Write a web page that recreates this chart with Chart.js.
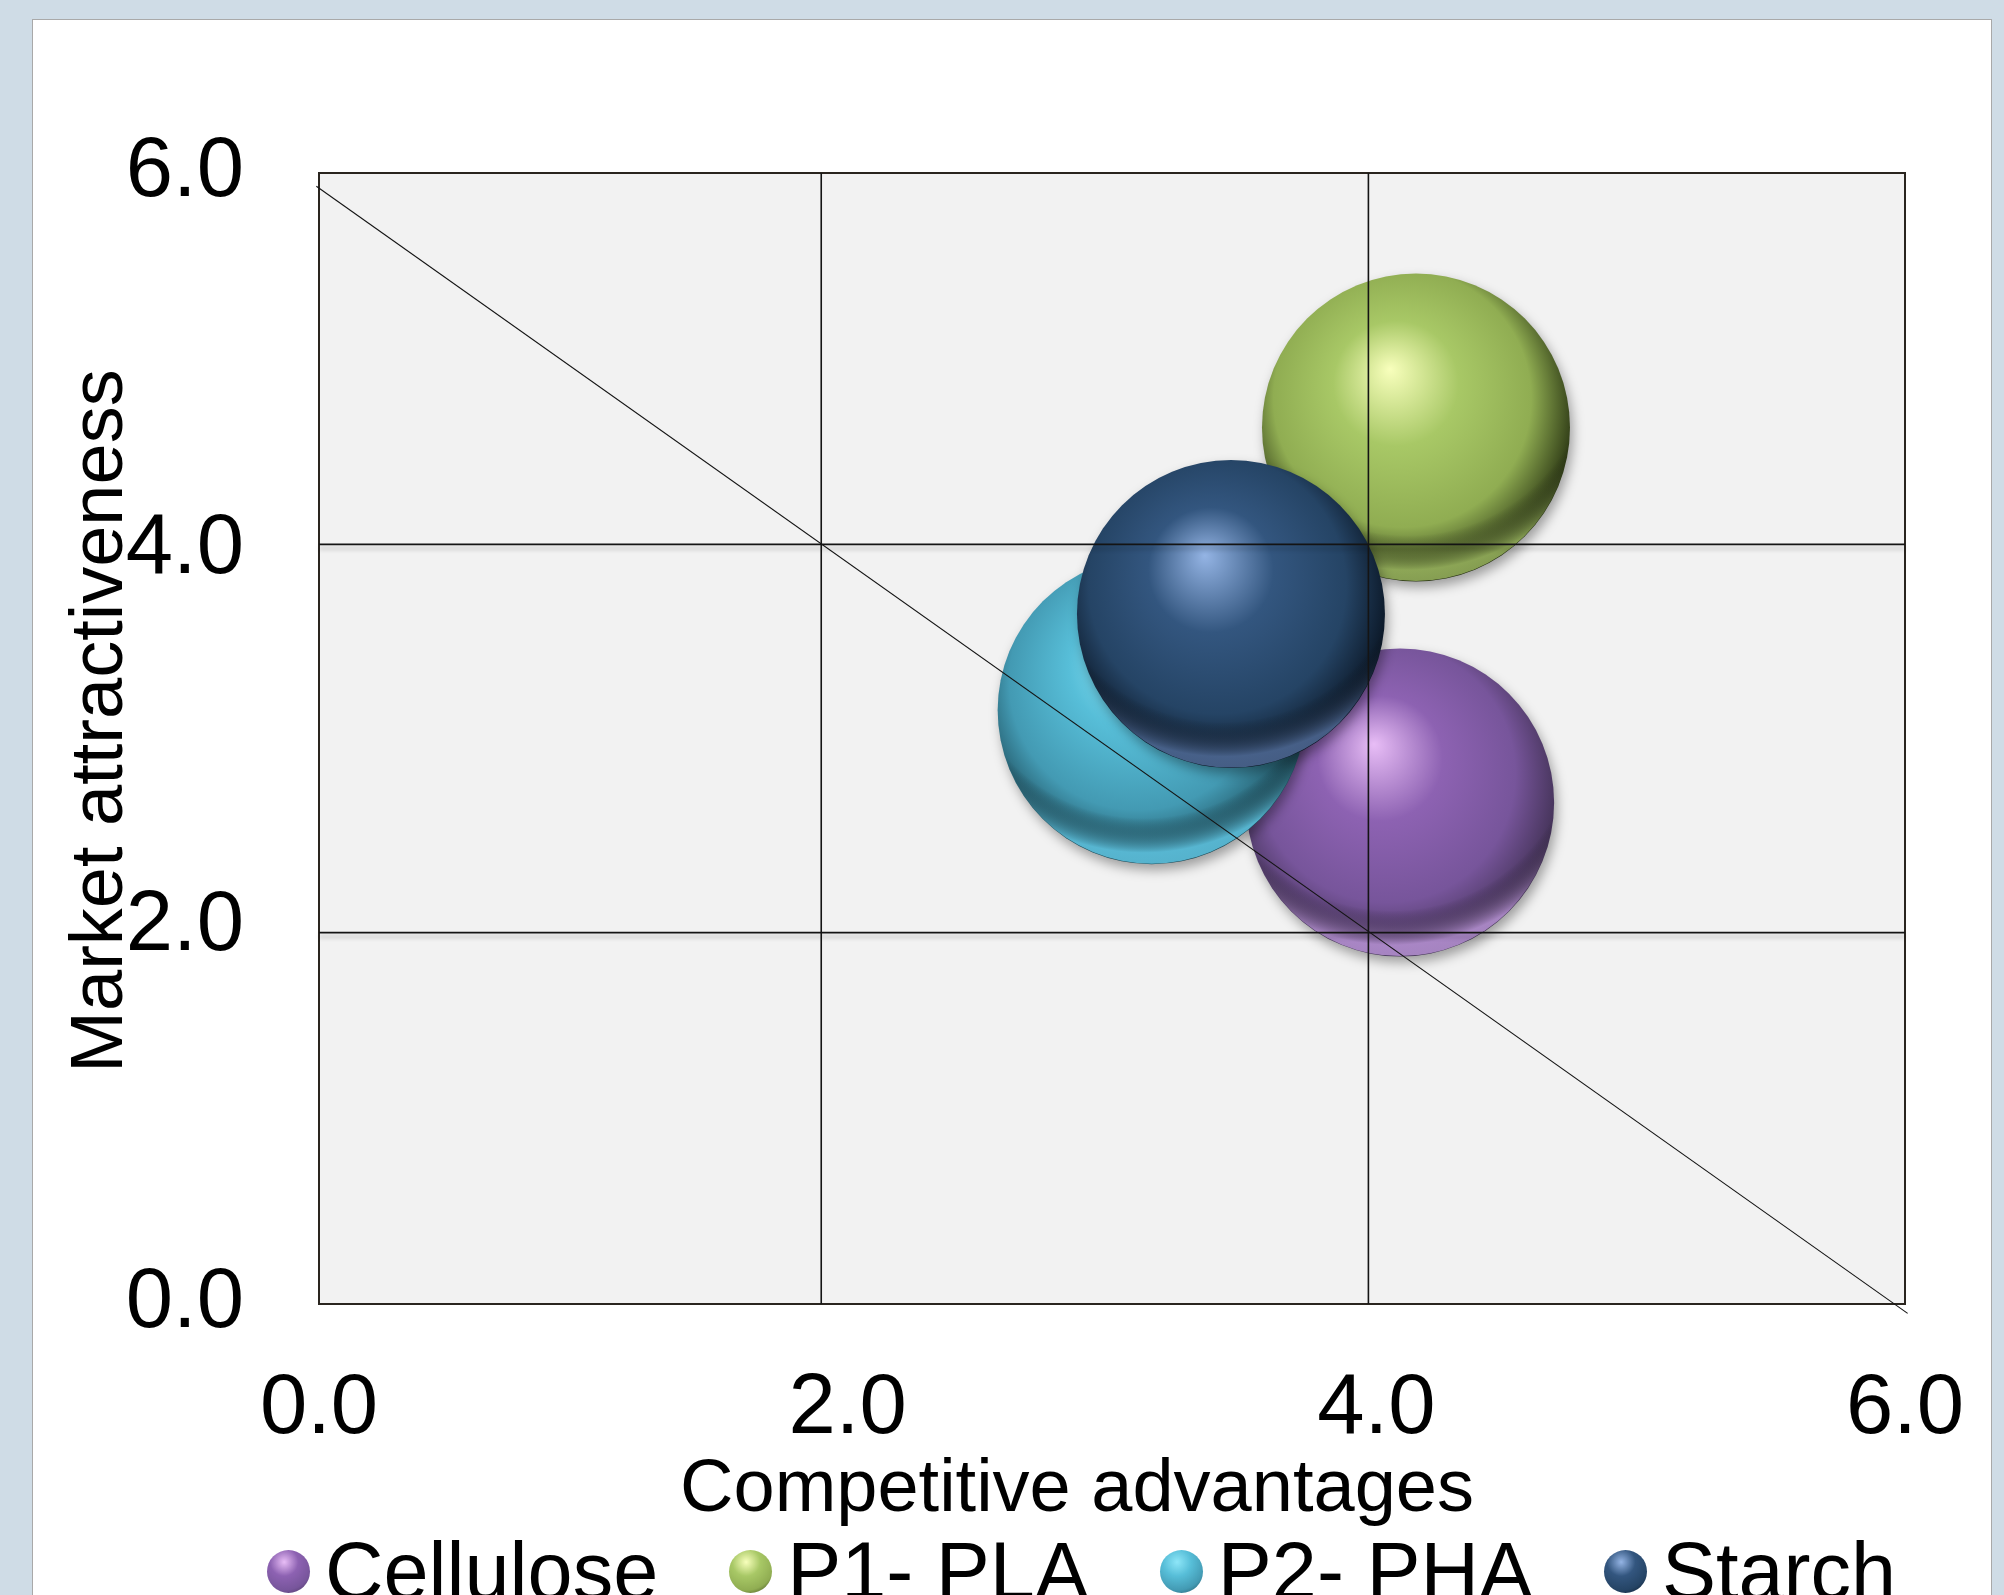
<!DOCTYPE html>
<html>
<head>
<meta charset="utf-8">
<script src="https://cdn.jsdelivr.net/npm/chart.js@4.4.1/dist/chart.umd.min.js"></script>
<style>
  html, body { margin:0; padding:0; width:2004px; height:1595px; overflow:hidden; background:#cfdce6; font-family:"Liberation Sans", Arial, sans-serif; }
  #panel { position:absolute; left:32px; top:19px; width:1958px; height:1600px; background:#ffffff; border:1px solid #a9a9a9; border-bottom:none; }
  #wrap { position:absolute; left:0; top:0; width:2004px; height:1595px; }
  #legend { position:absolute; left:267px; top:1531px; display:flex; align-items:center; font-size:81px; line-height:1; color:#000; white-space:nowrap; }
  #legend .item { display:flex; align-items:center; margin-right:71px; }
  #legend .dot { width:43px; height:43px; border-radius:50%; margin-right:15px; flex:none; }
</style>
</head>
<body>
<div id="panel"></div>
<div id="wrap"><canvas id="chart" width="2004" height="1595"></canvas></div>
<div id="legend"></div>
<script>
// ---------------- data ----------------
const categories = ['Cellulose', 'P1- PLA', 'P2- PHA', 'Starch'];
const competitiveAdvantages = [4.09, 4.15, 3.15, 3.45];   // x
const marketAttractiveness = [2.66, 4.65, 3.15, 3.66];    // y
const bubbleSizes = [1, 1, 1, 1];
const tickValues = [0, 2, 4, 6];
const xAxisTitle = 'Competitive advantages';
const yAxisTitle = 'Market attractiveness';
// quadrant divider lines and diagonal (data units)
const dividerX = [1.9, 3.97];
const dividerY = [4.03, 1.97];
const dividerSpan = [0, 6];
const diagonalX = [-0.01, 6.01];
const diagonalY = [5.93, -0.05];

// ---------------- styles ----------------
const FONT = '"Liberation Sans", Arial, sans-serif';
const BUBBLE_PX = 154;
const palette = [
  { light:'#e8bdf6', base:'#8d62b2', mid:'#77559b', dark:'#3e2f50', rim:'rgba(200,160,230,0.75)' },
  { light:'#f8ffbc', base:'#a8c866', mid:'#90ad52', dark:'#222c0e', rim:'rgba(175,205,110,0.7)' },
  { light:'#8ee6f8', base:'#57bed8', mid:'#439ab3', dark:'#1a4653', rim:'rgba(100,205,235,0.8)' },
  { light:'#94b4e4', base:'#33567f', mid:'#254465', dark:'#08121f', rim:'rgba(95,125,175,0.7)' }
];
const stackOrder = [3, 2, 1, 0];

function sphereFill(ctx, cx, cy, r, c) {
  const g = ctx.createRadialGradient(cx - 0.17 * r, cy - 0.38 * r, 0, cx - 0.06 * r, cy - 0.12 * r, r * 1.13);
  g.addColorStop(0, c.light);
  g.addColorStop(0.36, c.base);
  g.addColorStop(0.74, c.mid);
  g.addColorStop(1, c.dark);
  return g;
}

const bubbleDatasets = categories.map((name, i) => ({
  type: 'bubble',
  label: name,
  data: [{ x: competitiveAdvantages[i], y: marketAttractiveness[i], r: bubbleSizes[i] * BUBBLE_PX }],
  order: stackOrder[i],
  borderWidth: 0,
  borderColor: 'rgba(0,0,0,0)',
  bubbleShadow: true,
  paletteIndex: i,
  backgroundColor: (ctx) => {
    const c = palette[i];
    if (ctx.type !== 'data') return c.base;
    const xs = ctx.chart.scales.x, ys = ctx.chart.scales.y;
    if (!xs || !ys || !xs.width) return c.base;
    const cx = xs.getPixelForValue(ctx.raw.x);
    const cy = ys.getPixelForValue(ctx.raw.y);
    return sphereFill(ctx.chart.ctx, cx, cy, ctx.raw.r, c);
  }
}));

function lineDs(points, width, shadow) {
  return {
    type: 'line', label: '', data: points, borderColor: '#141414', borderWidth: width,
    pointRadius: 0, pointHoverRadius: 0, fill: false, tension: 0, clip: false, order: -1,
    lineShadow: shadow
  };
}
const lineDatasets = [
  ...dividerX.map(v => lineDs([{ x: v, y: dividerSpan[0] }, { x: v, y: dividerSpan[1] }], 1.6, false)),
  ...dividerY.map(v => lineDs([{ x: dividerSpan[0], y: v }, { x: dividerSpan[1], y: v }], 1.6, true)),
  lineDs([{ x: diagonalX[0], y: diagonalY[0] }, { x: diagonalX[1], y: diagonalY[1] }], 1.1, false)
];

// ---------------- plugins ----------------
const framePlugin = {
  id: 'frame',
  beforeDraw(chart) {
    const { ctx, chartArea: a } = chart;
    ctx.save();
    ctx.fillStyle = '#f2f2f2';
    ctx.fillRect(a.left, a.top, a.right - a.left, a.bottom - a.top);
    ctx.restore();
  },
  beforeDatasetsDraw(chart) {
    const { ctx, chartArea: a } = chart;
    ctx.save();
    ctx.strokeStyle = '#2a251f';
    ctx.lineWidth = 2;
    ctx.strokeRect(a.left, a.top, a.right - a.left, a.bottom - a.top);
    ctx.restore();
  },
  beforeDatasetDraw(chart, args) {
    const ds = chart.data.datasets[args.index];
    const ctx = chart.ctx;
    ctx.save();
    if (ds.bubbleShadow) {
      ctx.shadowColor = 'rgba(0,0,0,0.35)';
      ctx.shadowBlur = 12;
      ctx.shadowOffsetX = 3;
      ctx.shadowOffsetY = 6;
    } else if (ds.lineShadow) {
      ctx.shadowColor = 'rgba(0,0,0,0.25)';
      ctx.shadowBlur = 4;
      ctx.shadowOffsetY = 4;
    }
  },
  afterDatasetDraw(chart, args) {
    const ctx = chart.ctx;
    ctx.restore();
    const ds = chart.data.datasets[args.index];
    if (!ds.bubbleShadow) return;
    // soft light reflection along the lower rim of each sphere
    const c = palette[ds.paletteIndex];
    args.meta.data.forEach(el => {
      const r = el.options.radius || BUBBLE_PX;
      ctx.save();
      ctx.beginPath();
      ctx.arc(el.x, el.y, r - 0.5, 0, Math.PI * 2);
      ctx.clip();
      const ox = el.x - 0.05 * r, oy = el.y - 0.5 * r, R = 1.5 * r;
      const g = ctx.createRadialGradient(ox, oy, 0, ox, oy, R);
      g.addColorStop(0, 'rgba(0,0,0,0)');
      g.addColorStop(0.8, 'rgba(0,0,0,0)');
      g.addColorStop(0.95, c.rim);
      g.addColorStop(1, c.rim);
      ctx.fillStyle = g;
      ctx.fillRect(el.x - r, el.y - r, 2 * r, 2 * r);
      ctx.restore();
    });
  },
  afterDraw(chart) {
    const { ctx } = chart;
    ctx.save();
    ctx.fillStyle = '#000';
    ctx.font = '74px ' + FONT;
    ctx.textAlign = 'center';
    ctx.textBaseline = 'alphabetic';
    ctx.fillText(xAxisTitle, 1077, 1511);
    ctx.translate(122, 721);
    ctx.rotate(-Math.PI / 2);
    ctx.fillText(yAxisTitle, 0, 0);
    ctx.restore();
  }
};

const htmlLegendPlugin = {
  id: 'htmlLegend',
  afterUpdate(chart) {
    const el = document.getElementById('legend');
    el.innerHTML = '';
    chart.data.datasets.forEach((ds, i) => {
      if (ds.type !== 'bubble') return;
      const c = palette[i];
      const item = document.createElement('div');
      item.className = 'item';
      const dot = document.createElement('span');
      dot.className = 'dot';
      dot.style.background = `radial-gradient(circle at 40% 28%, ${c.light} 0%, ${c.base} 35%, ${c.mid} 70%, ${c.dark} 100%)`;
      const txt = document.createElement('span');
      txt.textContent = ds.label;
      item.appendChild(dot);
      item.appendChild(txt);
      el.appendChild(item);
    });
  }
};

// ---------------- chart ----------------
const tickFont = { family: FONT, size: 85 };
new Chart(document.getElementById('chart'), {
  type: 'bubble',
  data: { datasets: [...bubbleDatasets, ...lineDatasets] },
  options: {
    responsive: false,
    animation: false,
    events: [],
    layout: { autoPadding: false, padding: { left: 52, right: 99, top: 173, bottom: 91 } },
    plugins: { legend: { display: false }, tooltip: { enabled: false } },
    scales: {
      x: {
        type: 'linear', min: tickValues[0], max: tickValues[tickValues.length - 1],
        grid: { display: false }, border: { display: false },
        ticks: { font: tickFont, color: '#000', padding: 47, maxRotation: 0, autoSkip: false,
                 callback: v => Number(v).toFixed(1) },
        afterBuildTicks: s => { s.ticks = tickValues.map(v => ({ value: v })); },
        afterFit: s => { s.height = 200; s.paddingLeft = 60; s.paddingRight = 60; }
      },
      y: {
        type: 'linear', min: tickValues[0], max: tickValues[tickValues.length - 1],
        grid: { display: false }, border: { display: false },
        ticks: { font: tickFont, color: '#000', padding: 67, autoSkip: false,
                 callback: v => Number(v).toFixed(1) },
        afterBuildTicks: s => { s.ticks = tickValues.map(v => ({ value: v })); },
        afterFit: s => { s.width = 267; s.paddingTop = 50; s.paddingBottom = 50; }
      }
    }
  },
  plugins: [framePlugin, htmlLegendPlugin]
});
</script>
</body>
</html>
